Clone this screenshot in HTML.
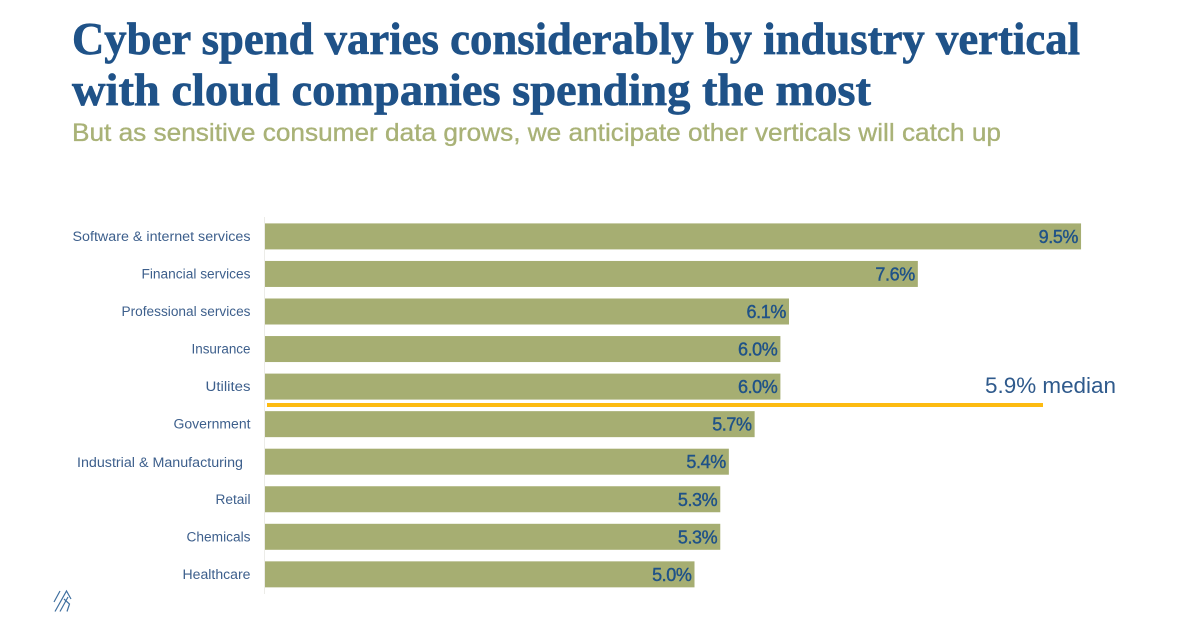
<!DOCTYPE html>
<html lang="en">
<head>
<meta charset="utf-8">
<title>Cyber spend by industry vertical</title>
<style>
html,body{margin:0;padding:0;background:#fff;width:1200px;height:640px;overflow:hidden}
svg{display:block}
.title{font-family:"Liberation Serif",serif;font-weight:700;font-size:46px;fill:#1f5288;stroke:#1f5288;stroke-width:.7px}
.sub{font-family:"Liberation Sans",sans-serif;font-size:25px;fill:#a9b277;stroke:#a9b277;stroke-width:.35px}
.cat{font-family:"Liberation Sans",sans-serif;font-size:13.5px;fill:#3d5f8c;text-anchor:end}
.val{font-family:"Liberation Sans",sans-serif;font-size:18px;fill:#1f5288;stroke:#1f5288;stroke-width:.4px;text-anchor:end;letter-spacing:-.4px}
.med{font-family:"Liberation Sans",sans-serif;font-size:22px;fill:#2f5a8c}
</style>
</head>
<body>
<svg id="chart" xmlns="http://www.w3.org/2000/svg" width="1200" height="640" viewBox="0 0 1200 640">
  <rect width="1200" height="640" fill="#fff"/>
  <text class="title" x="72" y="54" textLength="1008" lengthAdjust="spacingAndGlyphs">Cyber spend varies considerably by industry vertical</text>
  <text class="title" x="72" y="105" textLength="799" lengthAdjust="spacingAndGlyphs">with cloud companies spending the most</text>
  <text class="sub" x="72" y="141" textLength="929" lengthAdjust="spacingAndGlyphs">But as sensitive consumer data grows, we anticipate other verticals will catch up</text>
  <g id="marks"></g>
  <g fill="none" stroke="#3f6f9f" stroke-width="1.2">
    <path d="M54 602 L60 591 M55 611.500 L66.500 591 L71 599 M60 611.500 L68 597 M64 599 L69.500 604 L67 611.500"/>
  </g>
</svg>
<script>
const categories = ["Software & internet services","Financial services","Professional services","Insurance","Utilites","Government","Industrial & Manufacturing","Retail","Chemicals","Healthcare"];
const spendValues = [9.5,7.6,6.1,6.0,6.0,5.7,5.4,5.3,5.3,5.0];
const valueLabels = ["9.5%","7.6%","6.1%","6.0%","6.0%","5.7%","5.4%","5.3%","5.3%","5.0%"];
const medianValue = 5.9;
const medianLabel = "5.9% median";

const NS = "http://www.w3.org/2000/svg";
const marks = document.getElementById("marks");
const xScale = v => 265 + v * 85.9;
const yScale = i => 223.4 + i * 37.55;
const BAR_H = 26;
const labelFit = {"Software & internet services":178,"Financial services":109,"Professional services":129,"Insurance":59,"Utilites":45,"Government":77,"Industrial & Manufacturing":166,"Retail":35,"Chemicals":64,"Healthcare":68};

function mk(tag, attrs, text) {
  const el = document.createElementNS(NS, tag);
  for (const k in attrs) el.setAttribute(k, attrs[k]);
  if (text !== undefined) el.textContent = text;
  marks.appendChild(el);
  return el;
}

const axis = mk("line", {x1: 264.5, x2: 264.5, y1: 217, y2: 594, stroke: "#ecece8", "stroke-width": 1});



categories.forEach((c, i) => {
  const y = yScale(i);
  const bar = mk("rect", {x: xScale(0), y: y, width: xScale(spendValues[i]) - xScale(0), height: BAR_H, fill: "#a6ae72"});
  
  

  const labelX = c.startsWith("Industrial") ? 243 : 250.5;
  const labelY = c.startsWith("Industrial") ? y + 18.5 : y + 17.5;
  const label = mk("text", {class: "cat", x: labelX, y: labelY, textLength: labelFit[c], lengthAdjust: "spacingAndGlyphs"}, c);
  
  

  const val = mk("text", {class: "val", x: xScale(spendValues[i]) - 3, y: y + 19.5}, valueLabels[i]);
  
  
});

const medY = Math.round((yScale(4) + BAR_H + yScale(5)) / 2 - 0.5);
const medianLine = mk("rect", {x: 267, y: medY - 2, width: 776, height: 4, fill: "#fdbb11"});



const medText = mk("text", {class: "med", x: 985, y: 393, textLength: 131, lengthAdjust: "spacingAndGlyphs"}, medianLabel);


</script>
</body>
</html>
